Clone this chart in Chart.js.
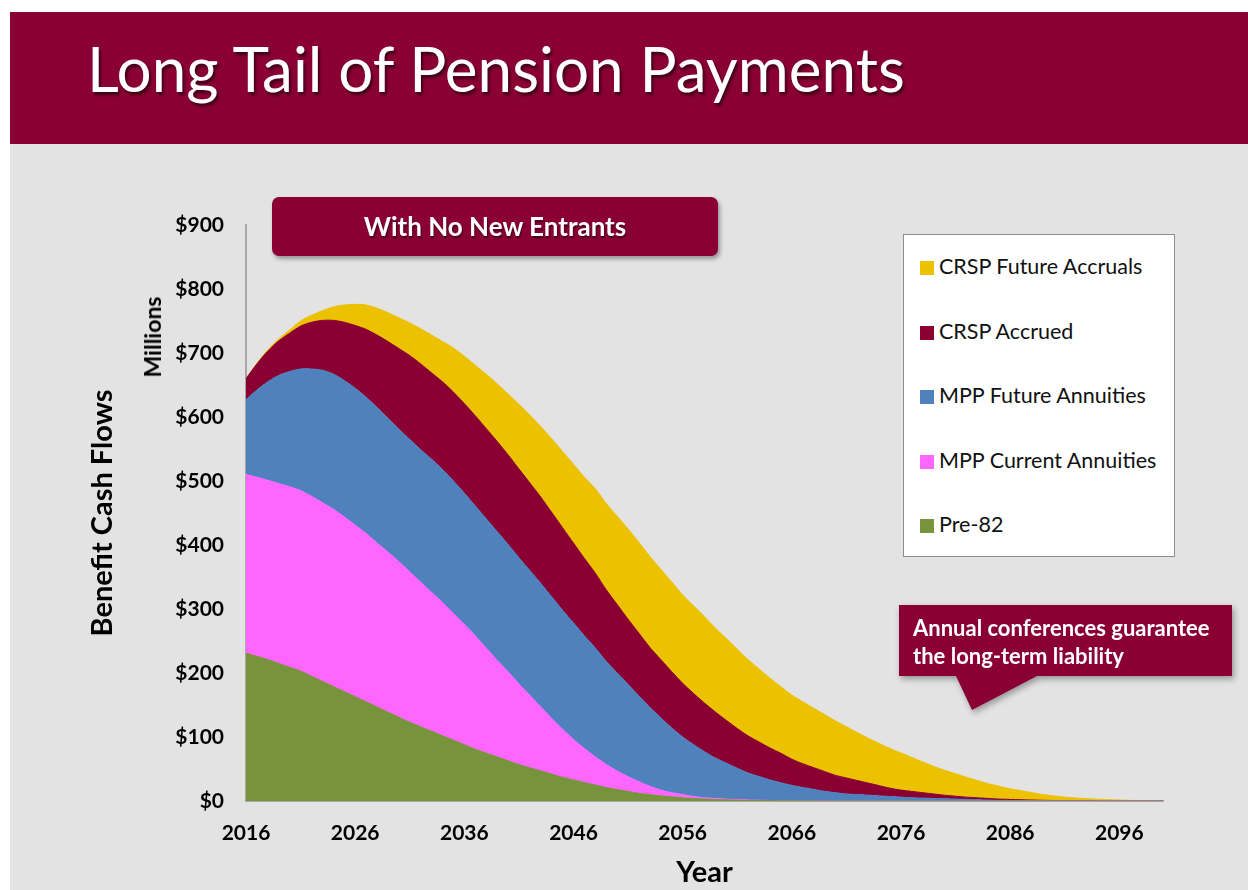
<!DOCTYPE html>
<html>
<head>
<meta charset="utf-8">
<title>Long Tail of Pension Payments</title>
<script src="https://cdn.jsdelivr.net/npm/chart.js@4.4.0/dist/chart.umd.min.js"></script>
<style>
    html, body {
        margin: 0;
        padding: 0;
        width: 1248px;
        height: 890px;
        overflow: hidden;
        background: #ffffff;
        font-family: Lato, 'Open Sans', sans-serif;
    }
    #banner {
        position: absolute;
        left: 10px;
        top: 12px;
        width: 1238px;
        height: 132px;
        background: #8b0033;
    }
    #banner h1 {
        position: absolute;
        left: 77px;
        top: 25px;
        margin: 0;
        font-weight: 400;
        font-size: 62px;
        line-height: 62px;
        color: #ffffff;
        white-space: nowrap;
        text-shadow: 2px 3px 3px rgba(0, 0, 0, 0.55);
    }
    #panel {
        position: absolute;
        left: 10px;
        top: 144px;
        width: 1238px;
        height: 746px;
        background: #e3e3e3;
    }
    #chartWrap {
        position: absolute;
        left: 10px;
        top: 150px;
        width: 1238px;
        height: 740px;
    }
    #millions {
        position: absolute;
        left: 152px;
        top: 337px;
        transform: translate(-50%, -50%) rotate(-90deg);
        font-weight: 700;
        font-size: 23px;
        color: #000;
        white-space: nowrap;
    }
    #scenario {
        position: absolute;
        left: 272px;
        top: 197px;
        width: 446px;
        height: 59px;
        border-radius: 7px;
        background: #8b0033;
        box-shadow: 2px 3px 4px rgba(0, 0, 0, 0.35);
        color: #fff;
        font-weight: 700;
        font-size: 26px;
        line-height: 59px;
        text-align: center;
        text-shadow: 1px 2px 2px rgba(0, 0, 0, 0.5);
    }
    #legendBox {
        position: absolute;
        left: 903px;
        top: 234px;
        width: 270px;
        height: 321px;
        background: #ffffff;
        border: 1px solid #8c8c8c;
    }
    .legItem {
        position: absolute;
        left: 16px;
        height: 24px;
        line-height: 24px;
        font-size: 21.5px;
        color: #111;
        white-space: nowrap;
    }
    .legItem span {
        display: inline-block;
        width: 14px;
        height: 14px;
        margin-right: 5px;
        vertical-align: -1px;
    }
    #callout {
        position: absolute;
        left: 899px;
        top: 605px;
        width: 333px;
        height: 106px;
        filter: drop-shadow(2px 3px 3px rgba(0, 0, 0, 0.35));
    }
    #calloutShape {
        position: absolute;
        left: 0;
        top: 0;
        width: 333px;
        height: 106px;
        background: #8b0033;
        clip-path: polygon(0 0, 333px 0, 333px 71px, 138px 71px, 73px 105px, 57px 71px, 0 71px);
    }
    #calloutText {
        position: absolute;
        left: 14px;
        top: 9px;
        color: #fff;
        font-weight: 700;
        font-size: 22px;
        line-height: 28px;
        white-space: nowrap;
    }
</style>
</head>
<body>

<div id="banner"><h1>Long Tail of Pension Payments</h1></div>
<div id="panel"></div>
<div id="chartWrap"><canvas id="chartPension"></canvas></div>
<div id="millions">Millions</div>
<div id="scenario">With No New Entrants</div>
<div id="legendBox"></div>
<div id="callout">
    <div id="calloutShape"></div>
    <div id="calloutText">Annual conferences guarantee<br>the long-term liability</div>
</div>

<script>
// ===========================
// DATOS (millones de $ por año, 2016-2100)
// ===========================
const firstYear = 2016;
const lastYear = 2100;
const years = [];
for (let y = firstYear; y <= lastYear; y++) years.push(String(y));

const yTicks = [0, 100, 200, 300, 400, 500, 600, 700, 800, 900];

// cada fila = 10 años (2016-2025, 2026-2035, ...), la última fila 2096-2100
const pre82 = [
    231, 226, 221, 215, 209, 203, 195, 187, 179, 171,
    163, 155, 147, 139, 131, 123, 116, 109, 102, 95,
    88, 81, 75, 69, 63, 57, 52, 47, 42, 37,
    33, 29, 25, 21, 18, 15, 12, 10, 8, 6.5,
    5, 4, 3, 2.3, 1.8, 1.3, 1, 0.8, 0.6, 0.4,
    0.3, 0.2, 0.1, 0.1, 0, 0, 0, 0, 0, 0,
    0, 0, 0, 0, 0, 0, 0, 0, 0, 0,
    0, 0, 0, 0, 0, 0, 0, 0, 0, 0,
    0, 0, 0, 0, 0
];

const mppCurrent = [
    279, 280, 280, 281, 282, 282, 281, 279, 277, 273,
    268, 263, 256, 250, 243, 235, 226, 217, 208, 198,
    188, 177, 164, 151, 139, 126, 113, 100, 87, 75,
    63, 53, 44, 36, 29, 23, 18, 13, 9, 6.5,
    5, 3, 2, 1.7, 1.2, 0.9, 0.7, 0.4, 0.3, 0.2,
    0.1, 0, 0, 0, 0, 0, 0, 0, 0, 0,
    0, 0, 0, 0, 0, 0, 0, 0, 0, 0,
    0, 0, 0, 0, 0, 0, 0, 0, 0, 0,
    0, 0, 0, 0, 0
];

const mppFuture = [
    117, 136, 154, 169, 180, 190, 199, 207, 211, 213,
    214, 213, 212, 209, 207, 207, 207, 208, 208, 207,
    205, 203, 202, 201, 199, 197, 195, 193, 190, 186,
    182, 176, 170, 161, 153, 144, 134, 123, 113, 101,
    90, 81, 72, 63, 56, 49, 42, 37, 32, 28,
    24, 21, 18, 15, 13, 11, 10, 9, 8, 7,
    6, 5, 4.5, 4, 3.5, 3, 2.5, 2, 1.5, 1,
    0.8, 0.6, 0.4, 0.3, 0.2, 0.1, 0, 0, 0, 0,
    0, 0, 0, 0, 0
];

const crspAccrued = [
    33, 41, 48, 54, 60, 67, 73, 78, 84, 91,
    98, 106, 113, 120, 126, 131, 134, 135, 137, 139,
    140, 141, 141, 141, 140, 139, 137, 135, 132, 129,
    125, 121, 117, 112, 107, 102, 98, 94, 91, 88,
    84, 80, 76, 72, 67, 62, 58, 54, 50, 46,
    41, 37, 34, 31, 27, 25, 22, 19, 16, 13,
    11, 10, 8.5, 7, 5.5, 4.5, 3.5, 3, 2.5, 2,
    1.7, 1.4, 1.1, 0.8, 0.6, 0.4, 0.3, 0.2, 0.1, 0,
    0, 0, 0, 0, 0
];

const crspFuture = [
    0, 1, 2, 3, 5, 8, 11, 15, 21, 27,
    33, 38, 42, 45, 48, 51, 55, 59, 63, 69,
    74, 79, 85, 90, 95, 101, 106, 110, 115, 119,
    123, 127, 132, 135, 138, 141, 142, 142, 141, 140,
    138, 137, 135, 131, 128, 124, 119, 114, 109, 104,
    100, 97, 93, 89, 85, 80, 75, 70, 66, 62,
    58, 53, 48, 43, 39, 35, 31, 27, 23, 20,
    16.5, 14, 11.5, 9, 7.2, 5.5, 4.5, 3.5, 2.7, 2,
    1.5, 1, 0.5, 0.2, 0
];

// orden de apilado: de abajo hacia arriba
const seriesNames = ['Pre-82', 'MPP Current Annuities', 'MPP Future Annuities', 'CRSP Accrued', 'CRSP Future Accruals'];
const seriesData = [pre82, mppCurrent, mppFuture, crspAccrued, crspFuture];
const seriesColors = ['#77933c', '#ff66ff', '#4f81bd', '#8b0033', '#ecc100'];

// ===========================
// LEYENDA (arriba -> abajo como en la diapositiva)
// ===========================
const legendBox = document.getElementById('legendBox');
const legendTops = [19, 84, 148, 213, 277];
seriesNames.slice().reverse().forEach((name, i) => {
    const idx = seriesNames.length - 1 - i;
    const item = document.createElement('div');
    item.className = 'legItem';
    item.style.top = legendTops[i] + 'px';
    item.innerHTML = '<span style="background:' + seriesColors[idx] + '"></span>' + name;
    legendBox.appendChild(item);
});

// ===========================
// GRÁFICO
// ===========================
Chart.defaults.font.family = "Lato, 'Open Sans', sans-serif";
Chart.defaults.color = '#000000';

const ctx = document.getElementById('chartPension');

const datasets = seriesData.map((data, i) => ({
    label: seriesNames[i],
    data: data,
    backgroundColor: seriesColors[i],
    borderColor: seriesColors[i],
    borderWidth: 1,
    pointRadius: 0,
    tension: 0.3,
    fill: i === 0 ? 'origin' : '-1'
}));

new Chart(ctx, {
    type: 'line',
    data: {
        labels: years,
        datasets: datasets
    },
    options: {
        responsive: true,
        maintainAspectRatio: false,
        animation: false,
        layout: {
            padding: { top: 75, right: 85, left: 0, bottom: 0 }
        },
        plugins: {
            legend: { display: false },
            tooltip: { enabled: false }
        },
        scales: {
            x: {
                offset: false,
                grid: { display: false, drawTicks: false },
                border: { display: true, color: '#a6a6a6', width: 2 },
                ticks: {
                    autoSkip: false,
                    maxRotation: 0,
                    padding: 20,
                    font: { size: 21, weight: 'bold' },
                    callback: function (value) {
                        const yr = Number(this.getLabelForValue(value));
                        return (yr - firstYear) % 10 === 0 ? String(yr) : '';
                    }
                },
                title: {
                    display: true,
                    text: 'Year',
                    font: { size: 29, weight: 'bold' },
                    padding: { top: 0, bottom: 0 }
                },
                afterFit: (scale) => { scale.height = 89; }
            },
            y: {
                stacked: true,
                min: yTicks[0],
                max: yTicks[yTicks.length - 1],
                grid: { display: false, drawTicks: false },
                border: { display: true, color: '#a6a6a6', width: 2 },
                ticks: {
                    stepSize: 100,
                    padding: 22,
                    font: { size: 21, weight: 'bold' },
                    callback: (v) => '$' + v
                },
                title: {
                    display: true,
                    text: 'Benefit Cash Flows',
                    font: { size: 29, weight: 'bold' },
                    padding: { top: 75, bottom: 0 }
                },
                afterFit: (scale) => { scale.width = 236; }
            }
        }
    }
});
</script>
</body>
</html>
